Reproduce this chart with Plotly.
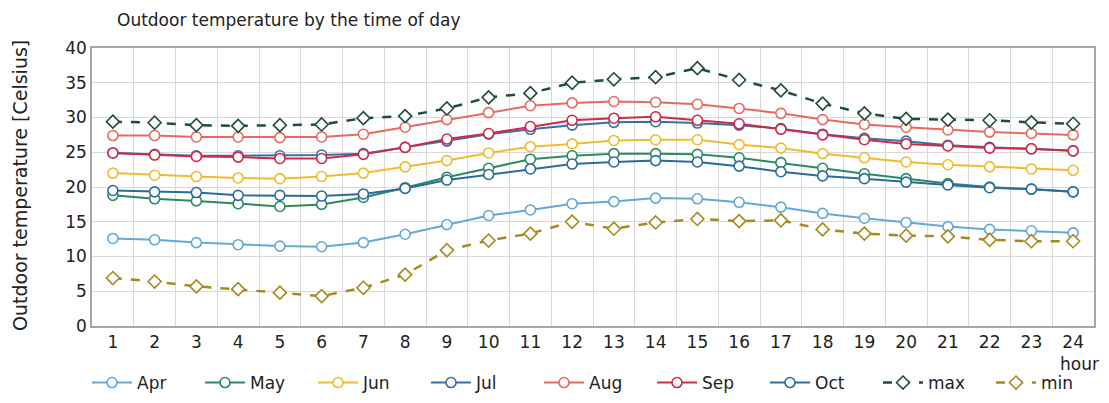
import plotly.graph_objects as go

hours = list(range(1, 25))
hour_labels = [str(h) for h in hours]

apr = [12.6, 12.4, 12.0, 11.7, 11.5, 11.4, 12.0, 13.2, 14.6, 15.9, 16.7, 17.6, 17.9, 18.4, 18.3, 17.8, 17.1, 16.2, 15.5, 14.9, 14.3, 13.9, 13.7, 13.4]
may = [18.8, 18.3, 18.0, 17.6, 17.2, 17.5, 18.5, 19.9, 21.4, 22.7, 24.0, 24.5, 24.8, 24.8, 24.7, 24.2, 23.5, 22.7, 21.9, 21.2, 20.5, 20.0, 19.7, 19.3]
jun = [22.0, 21.7, 21.5, 21.3, 21.2, 21.5, 22.0, 22.9, 23.8, 24.9, 25.8, 26.2, 26.7, 26.8, 26.8, 26.1, 25.6, 24.8, 24.2, 23.6, 23.2, 22.9, 22.6, 22.4]
jul = [24.9, 24.7, 24.5, 24.5, 24.5, 24.6, 24.8, 25.7, 26.6, 27.6, 28.3, 28.9, 29.3, 29.4, 29.2, 28.9, 28.4, 27.6, 27.0, 26.6, 26.0, 25.7, 25.5, 25.2]
aug = [27.4, 27.4, 27.2, 27.2, 27.1, 27.2, 27.6, 28.6, 29.7, 30.7, 31.7, 32.1, 32.3, 32.2, 31.9, 31.3, 30.6, 29.7, 29.0, 28.6, 28.2, 27.9, 27.7, 27.5]
sep = [24.9, 24.6, 24.4, 24.3, 24.1, 24.1, 24.7, 25.7, 26.9, 27.7, 28.7, 29.6, 29.9, 30.1, 29.6, 29.1, 28.3, 27.5, 26.8, 26.2, 25.9, 25.6, 25.5, 25.2]
oct_ = [19.5, 19.3, 19.2, 18.8, 18.8, 18.7, 19.0, 19.8, 21.0, 21.8, 22.6, 23.3, 23.6, 23.8, 23.6, 23.0, 22.2, 21.6, 21.2, 20.7, 20.3, 19.9, 19.7, 19.3]
tmax = [29.4, 29.25, 28.9, 28.8, 28.9, 29.0, 29.9, 30.2, 31.3, 32.9, 33.5, 35.0, 35.5, 35.8, 37.1, 35.4, 33.9, 32.0, 30.6, 29.8, 29.7, 29.6, 29.3, 29.1]
tmin = [6.9, 6.4, 5.7, 5.3, 4.8, 4.3, 5.5, 7.4, 10.9, 12.3, 13.3, 15.0, 14.0, 14.9, 15.4, 15.1, 15.2, 13.9, 13.3, 13.0, 12.9, 12.4, 12.2, 12.2]

series = [
    ("Apr", apr, "#62a9d6", "solid"),
    ("May", may, "#2c8a62", "solid"),
    ("Jun", jun, "#f0bb2c", "solid"),
    ("Jul", jul, "#3b6ea6", "solid"),
    ("Aug", aug, "#e86a5c", "solid"),
    ("Sep", sep, "#cf2a47", "solid"),
    ("Oct", oct_, "#2a6c9c", "solid"),
    ("max", tmax, "#1e4d3b", "dash"),
    ("min", tmin, "#a58a1e", "dash"),
]

FONT = "DejaVu Sans"
W, H = 1109, 403
L, R, T, B = 92, 15, 48, 77
PW, PH = W - L - R, H - T - B

fig = go.Figure()
for name, vals, color, dash in series:
    is_dash = dash == "dash"
    fig.add_trace(go.Scatter(
        x=hours, y=vals, name=name, mode="lines+markers",
        line=dict(color=color, width=2.5 if is_dash else 2, dash=dash),
        marker=dict(symbol="diamond" if is_dash else "circle",
                    size=10, color="white",
                    line=dict(color=color, width=1.6)),
    ))

fig.update_layout(
    width=W, height=H,
    margin=dict(l=L, r=R, t=T, b=B, autoexpand=False),
    paper_bgcolor="white", plot_bgcolor="white",
    font=dict(family=FONT, size=17, color="#222222"),
    title=dict(text="Outdoor temperature by the time of day", x=117 / W, xanchor="left",
               y=1 - 20 / H, yanchor="middle", font=dict(size=17, color="#222222")),
    showlegend=True,
    legend=dict(orientation="h", x=(87 - L) / PW, xanchor="left", y=-(383 - (T + PH)) / PH,
                yanchor="middle", font=dict(size=17), itemwidth=40, tracegroupgap=0,
                entrywidth=58, entrywidthmode="pixels", bgcolor="rgba(0,0,0,0)"),
)
fig.update_xaxes(
    range=[0.5, 24.5], tickmode="array", tickvals=hours, ticktext=hour_labels,
    showgrid=False, zeroline=False, ticks="", ticklen=0, automargin=False,
    showline=True, mirror=True, linecolor="#a6a6a6", linewidth=1.5,
    minor=dict(tickmode="array", tickvals=[h + 0.5 for h in range(1, 24)],
               showgrid=True, gridcolor="#d9d9d9", gridwidth=1.2, ticklen=0),
    tickfont=dict(size=17),
)
fig.update_yaxes(
    range=[0, 40], dtick=5, tick0=0, showgrid=True, gridcolor="#d9d9d9", gridwidth=1.2,
    zeroline=False, showline=True, mirror=True, linecolor="#a6a6a6", linewidth=1.5,
    ticks="", tickfont=dict(size=17), automargin=False,
)
fig.add_annotation(text="Outdoor temperature [Celsius]", textangle=-90,
                   xref="paper", yref="paper", x=(20 - L) / PW, y=(T + PH - 186) / PH,
                   xanchor="center", yanchor="middle", showarrow=False,
                   font=dict(size=19, color="#222222"))
fig.add_annotation(text="hour", xref="paper", yref="paper", x=(1079 - L) / PW,
                   y=-(364 - (T + PH)) / PH, xanchor="center", yanchor="middle",
                   showarrow=False, font=dict(size=17, color="#222222"))

fig.write_html("out.html", post_script="document.body.style.margin='0';",
               config={"displayModeBar": False})
